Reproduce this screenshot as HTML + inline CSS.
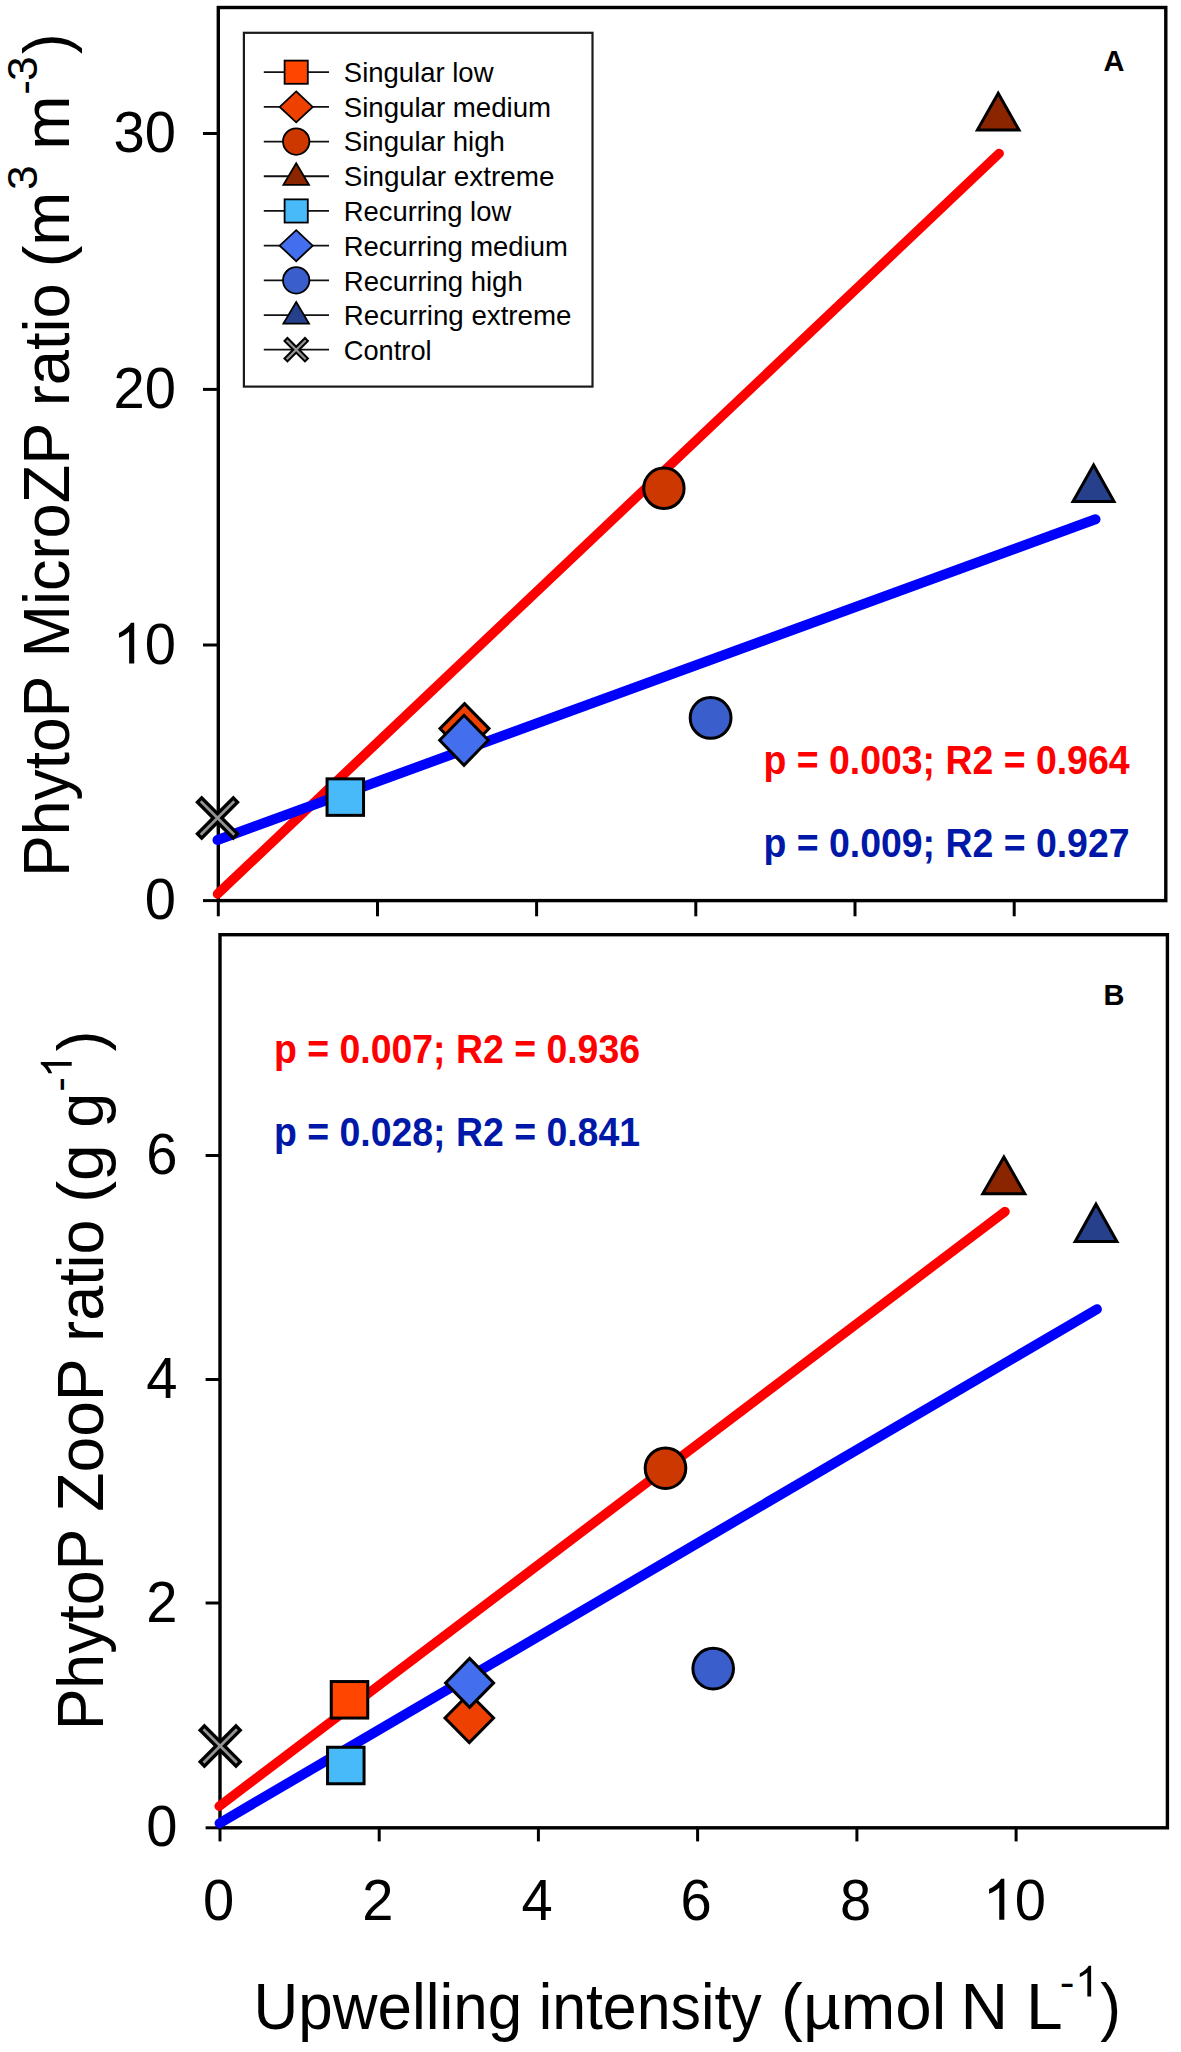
<!DOCTYPE html>
<html lang="en"><head><meta charset="utf-8"><title>Figure</title>
<style>html,body{margin:0;padding:0;background:#fff;overflow:hidden;}svg{display:block;}text{font-family:"Liberation Sans", sans-serif;fill:#000;}</style>
</head><body>
<svg width="1181" height="2052" viewBox="0 0 1181 2052">
<rect x="0" y="0" width="1181" height="2052" fill="#ffffff"/>
<line x1="203.0" y1="133.5" x2="218.3" y2="133.5" stroke="#000" stroke-width="3.0"/>
<line x1="203.0" y1="389.4" x2="218.3" y2="389.4" stroke="#000" stroke-width="3.0"/>
<line x1="203.0" y1="645.0" x2="218.3" y2="645.0" stroke="#000" stroke-width="3.0"/>
<line x1="203.0" y1="900.6" x2="218.3" y2="900.6" stroke="#000" stroke-width="3.0"/>
<line x1="218.3" y1="900.6" x2="218.3" y2="916.3" stroke="#000" stroke-width="3.0"/>
<line x1="377.5" y1="900.6" x2="377.5" y2="916.3" stroke="#000" stroke-width="3.0"/>
<line x1="536.6" y1="900.6" x2="536.6" y2="916.3" stroke="#000" stroke-width="3.0"/>
<line x1="695.8" y1="900.6" x2="695.8" y2="916.3" stroke="#000" stroke-width="3.0"/>
<line x1="855.0" y1="900.6" x2="855.0" y2="916.3" stroke="#000" stroke-width="3.0"/>
<line x1="1014.2" y1="900.6" x2="1014.2" y2="916.3" stroke="#000" stroke-width="3.0"/>
<rect x="218.3" y="7.5" width="947.5" height="893.1" fill="none" stroke="#000" stroke-width="3.4"/>
<line x1="217.5" y1="894" x2="999.2" y2="153.4" stroke="#FF0000" stroke-width="9.5" stroke-linecap="round"/>
<line x1="217.5" y1="840" x2="1095.5" y2="519.3" stroke="#0000FF" stroke-width="10.0" stroke-linecap="round"/>
<line x1="198.41" y1="798.91" x2="236.59" y2="837.09" stroke="#000" stroke-width="9.3" stroke-linecap="butt"/>
<line x1="198.41" y1="837.09" x2="236.59" y2="798.91" stroke="#000" stroke-width="9.3" stroke-linecap="butt"/>
<line x1="200.74" y1="801.24" x2="234.26" y2="834.76" stroke="#949494" stroke-width="2.7" stroke-linecap="butt"/>
<line x1="200.74" y1="834.76" x2="234.26" y2="801.24" stroke="#949494" stroke-width="2.7" stroke-linecap="butt"/>
<rect x="327.05" y="778.85" width="36.50" height="36.50" fill="#49BAF9" stroke="#000" stroke-width="3.0" stroke-linejoin="miter"/>
<polygon points="464.50,703.60 489.00,728.60 464.50,753.60 440.00,728.60" fill="#EE4000" stroke="#000" stroke-width="3.0" stroke-linejoin="miter"/>
<polygon points="464.00,715.30 488.30,740.30 464.00,765.30 439.70,740.30" fill="#436EEE" stroke="#000" stroke-width="3.0" stroke-linejoin="miter"/>
<circle cx="663.90" cy="488.30" r="20.20" fill="#CD3700" stroke="#000" stroke-width="3.0"/>
<circle cx="710.60" cy="717.90" r="20.40" fill="#3A5FCD" stroke="#000" stroke-width="3.0"/>
<polygon points="998.20,93.30 1019.00,130.00 977.40,130.00" fill="#8B2500" stroke="#000" stroke-width="3.0" stroke-linejoin="miter"/>
<polygon points="1093.60,465.00 1114.00,501.40 1073.00,501.40" fill="#27408B" stroke="#000" stroke-width="3.0" stroke-linejoin="miter"/>
<line x1="205.6" y1="1155.5" x2="220.0" y2="1155.5" stroke="#000" stroke-width="3.0"/>
<line x1="205.6" y1="1379.5" x2="220.0" y2="1379.5" stroke="#000" stroke-width="3.0"/>
<line x1="205.6" y1="1603.0" x2="220.0" y2="1603.0" stroke="#000" stroke-width="3.0"/>
<line x1="205.6" y1="1827.8" x2="220.0" y2="1827.8" stroke="#000" stroke-width="3.0"/>
<line x1="220.0" y1="1827.8" x2="220.0" y2="1841.4" stroke="#000" stroke-width="3.0"/>
<line x1="379.2" y1="1827.8" x2="379.2" y2="1841.4" stroke="#000" stroke-width="3.0"/>
<line x1="538.4" y1="1827.8" x2="538.4" y2="1841.4" stroke="#000" stroke-width="3.0"/>
<line x1="697.6" y1="1827.8" x2="697.6" y2="1841.4" stroke="#000" stroke-width="3.0"/>
<line x1="856.9" y1="1827.8" x2="856.9" y2="1841.4" stroke="#000" stroke-width="3.0"/>
<line x1="1016.1" y1="1827.8" x2="1016.1" y2="1841.4" stroke="#000" stroke-width="3.0"/>
<rect x="220.0" y="934.7" width="947.4000000000001" height="893.0999999999999" fill="none" stroke="#000" stroke-width="3.4"/>
<line x1="219.2" y1="1806.2" x2="1005" y2="1211.6" stroke="#FF0000" stroke-width="9.5" stroke-linecap="round"/>
<line x1="219.6" y1="1823.2" x2="1096.9" y2="1309.2" stroke="#0000FF" stroke-width="10.0" stroke-linecap="round"/>
<line x1="201.11" y1="1726.91" x2="239.29" y2="1765.09" stroke="#000" stroke-width="9.3" stroke-linecap="butt"/>
<line x1="201.11" y1="1765.09" x2="239.29" y2="1726.91" stroke="#000" stroke-width="9.3" stroke-linecap="butt"/>
<line x1="203.44" y1="1729.24" x2="236.96" y2="1762.76" stroke="#949494" stroke-width="2.7" stroke-linecap="butt"/>
<line x1="203.44" y1="1762.76" x2="236.96" y2="1729.24" stroke="#949494" stroke-width="2.7" stroke-linecap="butt"/>
<rect x="331.25" y="1681.55" width="36.50" height="36.50" fill="#FF4500" stroke="#000" stroke-width="3.0" stroke-linejoin="miter"/>
<rect x="327.55" y="1747.25" width="36.50" height="36.50" fill="#49BAF9" stroke="#000" stroke-width="3.0" stroke-linejoin="miter"/>
<polygon points="469.30,1693.50 493.60,1718.00 469.30,1742.50 445.00,1718.00" fill="#EE4000" stroke="#000" stroke-width="3.0" stroke-linejoin="miter"/>
<polygon points="469.60,1658.40 493.60,1682.90 469.60,1707.40 445.60,1682.90" fill="#436EEE" stroke="#000" stroke-width="3.0" stroke-linejoin="miter"/>
<circle cx="665.50" cy="1468.20" r="20.30" fill="#CD3700" stroke="#000" stroke-width="3.0"/>
<circle cx="713.20" cy="1668.60" r="20.30" fill="#3A5FCD" stroke="#000" stroke-width="3.0"/>
<polygon points="1003.90,1157.00 1024.80,1193.70 982.80,1193.70" fill="#8B2500" stroke="#000" stroke-width="3.0" stroke-linejoin="miter"/>
<polygon points="1096.00,1204.20 1116.90,1241.60 1075.20,1241.60" fill="#27408B" stroke="#000" stroke-width="3.0" stroke-linejoin="miter"/>
<rect x="243.9" y="32.8" width="348.6" height="353.8" fill="#fff" stroke="#1a1a1a" stroke-width="2.2"/>
<line x1="263.8" y1="72.2" x2="329" y2="72.2" stroke="#111" stroke-width="1.8"/>
<rect x="284.60" y="60.60" width="23.20" height="23.20" fill="#FF4500" stroke="#000" stroke-width="1.8" stroke-linejoin="miter"/>
<text transform="translate(343.8,81.86) scale(0.996,1)" font-size="27.6">Singular low</text>
<line x1="263.8" y1="106.89" x2="329" y2="106.89" stroke="#111" stroke-width="1.8"/>
<polygon points="296.20,91.39 312.70,106.89 296.20,122.39 279.70,106.89" fill="#EE4000" stroke="#000" stroke-width="1.8" stroke-linejoin="miter"/>
<text transform="translate(343.8,116.63) scale(1.0015,1)" font-size="27.6">Singular medium</text>
<line x1="263.8" y1="141.57999999999998" x2="329" y2="141.57999999999998" stroke="#111" stroke-width="1.8"/>
<circle cx="296.20" cy="141.58" r="13.20" fill="#CD3700" stroke="#000" stroke-width="1.8"/>
<text transform="translate(343.8,151.41) scale(1.0006,1)" font-size="27.6">Singular high</text>
<line x1="263.8" y1="176.26999999999998" x2="329" y2="176.26999999999998" stroke="#111" stroke-width="1.8"/>
<polygon points="296.20,163.27 309.00,184.87 283.40,184.87" fill="#8B2500" stroke="#000" stroke-width="1.8" stroke-linejoin="miter"/>
<text transform="translate(343.8,186.19) scale(1.0102,1)" font-size="27.6">Singular extreme</text>
<line x1="263.8" y1="210.95999999999998" x2="329" y2="210.95999999999998" stroke="#111" stroke-width="1.8"/>
<rect x="284.60" y="199.36" width="23.20" height="23.20" fill="#49BAF9" stroke="#000" stroke-width="1.8" stroke-linejoin="miter"/>
<text transform="translate(343.8,220.96) scale(0.9922,1)" font-size="27.6">Recurring low</text>
<line x1="263.8" y1="245.64999999999998" x2="329" y2="245.64999999999998" stroke="#111" stroke-width="1.8"/>
<polygon points="296.20,230.15 312.70,245.65 296.20,261.15 279.70,245.65" fill="#436EEE" stroke="#000" stroke-width="1.8" stroke-linejoin="miter"/>
<text transform="translate(343.8,255.74) scale(0.9937,1)" font-size="27.6">Recurring medium</text>
<line x1="263.8" y1="280.34" x2="329" y2="280.34" stroke="#111" stroke-width="1.8"/>
<circle cx="296.20" cy="280.34" r="13.20" fill="#3A5FCD" stroke="#000" stroke-width="1.8"/>
<text transform="translate(343.8,290.51) scale(0.9972,1)" font-size="27.6">Recurring high</text>
<line x1="263.8" y1="315.03" x2="329" y2="315.03" stroke="#111" stroke-width="1.8"/>
<polygon points="296.20,302.03 309.00,323.63 283.40,323.63" fill="#27408B" stroke="#000" stroke-width="1.8" stroke-linejoin="miter"/>
<text transform="translate(343.8,325.28) scale(1.0031,1)" font-size="27.6">Recurring extreme</text>
<line x1="263.8" y1="349.71999999999997" x2="329" y2="349.71999999999997" stroke="#111" stroke-width="1.8"/>
<line x1="285.24" y1="338.76" x2="307.16" y2="360.68" stroke="#000" stroke-width="6.2" stroke-linecap="butt"/>
<line x1="285.24" y1="360.68" x2="307.16" y2="338.76" stroke="#000" stroke-width="6.2" stroke-linecap="butt"/>
<line x1="286.65" y1="340.17" x2="305.75" y2="359.27" stroke="#949494" stroke-width="2.2" stroke-linecap="butt"/>
<line x1="286.65" y1="359.27" x2="305.75" y2="340.17" stroke="#949494" stroke-width="2.2" stroke-linecap="butt"/>
<text transform="translate(343.8,360.06) scale(0.9872,1)" font-size="27.6">Control</text>
<text transform="translate(176.0,152.10) scale(0.985,1)" font-size="57.0" text-anchor="end">30</text>
<text transform="translate(176.0,408.00) scale(0.985,1)" font-size="57.0" text-anchor="end">20</text>
<text transform="translate(176.0,663.60) scale(0.985,1)" font-size="57.0" text-anchor="end">0</text>
<path transform="translate(112.67,663.60) rotate(0) scale(0.02824,-0.02783)" d="M763,0H583V1147Q518,1085 412.5,1023Q307,961 223,930V1104Q374,1175 487,1276Q600,1377 647,1472H763Z" fill="#000"/>
<text transform="translate(176.0,919.20) scale(0.985,1)" font-size="57.0" text-anchor="end">0</text>
<text transform="translate(177.4,1174.10) scale(0.985,1)" font-size="57.0" text-anchor="end">6</text>
<text transform="translate(177.4,1398.10) scale(0.985,1)" font-size="57.0" text-anchor="end">4</text>
<text transform="translate(177.4,1621.60) scale(0.985,1)" font-size="57.0" text-anchor="end">2</text>
<text transform="translate(177.4,1846.40) scale(0.985,1)" font-size="57.0" text-anchor="end">0</text>
<text transform="translate(218.60,1919.7) scale(0.985,1)" font-size="57.0" text-anchor="middle">0</text>
<text transform="translate(377.80,1919.7) scale(0.985,1)" font-size="57.0" text-anchor="middle">2</text>
<text transform="translate(537.00,1919.7) scale(0.985,1)" font-size="57.0" text-anchor="middle">4</text>
<text transform="translate(696.20,1919.7) scale(0.985,1)" font-size="57.0" text-anchor="middle">6</text>
<text transform="translate(855.50,1919.7) scale(0.985,1)" font-size="57.0" text-anchor="middle">8</text>
<text transform="translate(1014.70,1919.7) scale(0.985,1)" font-size="57.0">0</text>
<path transform="translate(982.78,1919.70) rotate(0) scale(0.02824,-0.02783)" d="M763,0H583V1147Q518,1085 412.5,1023Q307,961 223,930V1104Q374,1175 487,1276Q600,1377 647,1472H763Z" fill="#000"/>
<text transform="translate(68.50,876.72) rotate(-90) scale(0.9745,1)" font-size="64">PhytoP</text>
<text transform="translate(68.50,657.47) rotate(-90) scale(0.9855,1)" font-size="64">MicroZP</text>
<text transform="translate(68.50,406.20) rotate(-90) scale(0.9872,1)" font-size="64">ratio</text>
<text transform="translate(68.50,267.34) rotate(-90) scale(1.0109,1)" font-size="64">(m</text>
<text transform="translate(37.20,189.97) rotate(-90) scale(1.0300,1)" font-size="43">3</text>
<text transform="translate(68.50,149.83) rotate(-90) scale(1.0184,1)" font-size="64">m</text>
<text transform="translate(39.40,94.83) rotate(-90) scale(1.0286,1)" font-size="43">-</text>
<text transform="translate(37.20,80.97) rotate(-90) scale(1.0300,1)" font-size="43">3</text>
<text transform="translate(68.50,53.96) rotate(-90) scale(0.9706,1)" font-size="64">)</text>
<text transform="translate(103.30,1730.33) rotate(-90) scale(0.9770,1)" font-size="64">PhytoP</text>
<text transform="translate(103.30,1511.81) rotate(-90) scale(1.0039,1)" font-size="64">ZooP</text>
<text transform="translate(103.30,1341.67) rotate(-90) scale(0.9813,1)" font-size="64">ratio</text>
<text transform="translate(103.30,1202.81) rotate(-90) scale(1.0277,1)" font-size="64">(g</text>
<text transform="translate(103.30,1127.79) rotate(-90) scale(0.9870,1)" font-size="64">g</text>
<text transform="translate(73.50,1091.79) rotate(-90) scale(1.0300,1)" font-size="43">-</text>
<text transform="translate(103.30,1051.22) rotate(-90) scale(0.9600,1)" font-size="64">)</text>
<text transform="translate(253.58,2028.50) scale(0.9683,1)" font-size="64">Upwelling</text>
<text transform="translate(538.66,2028.50) scale(0.9502,1)" font-size="64">intensity</text>
<text transform="translate(781.11,2028.50) scale(1.0235,1)" font-size="64">(µmol</text>
<text transform="translate(960.58,2028.50) scale(1.0300,1)" font-size="64">N</text>
<text transform="translate(1025.89,2028.50) scale(1.0300,1)" font-size="64">L</text>
<text transform="translate(1059.81,1997.20) scale(1.0300,1)" font-size="43">-</text>
<text transform="translate(1100.23,2028.50) scale(0.9765,1)" font-size="64">)</text>
<path transform="translate(71.70,1077.90) rotate(-90) scale(0.02100,-0.02100)" d="M763,0H583V1147Q518,1085 412.5,1023Q307,961 223,930V1104Q374,1175 487,1276Q600,1377 647,1472H763Z" fill="#000"/>
<path transform="translate(1075.10,1996.60) rotate(0) scale(0.02100,-0.02100)" d="M763,0H583V1147Q518,1085 412.5,1023Q307,961 223,930V1104Q374,1175 487,1276Q600,1377 647,1472H763Z" fill="#000"/>
<text x="1103.5" y="71" font-size="29" font-weight="bold">A</text>
<text x="1103.5" y="1004.5" font-size="29" font-weight="bold">B</text>
<text x="763.5" y="774.3" font-size="40.3" font-weight="bold" style="fill:#FF0000" textLength="366" lengthAdjust="spacingAndGlyphs">p = 0.003; R2 = 0.964</text>
<text x="763.5" y="857.3" font-size="40.3" font-weight="bold" style="fill:#0018A8" textLength="366" lengthAdjust="spacingAndGlyphs">p = 0.009; R2 = 0.927</text>
<text x="274" y="1063.2" font-size="40.3" font-weight="bold" style="fill:#FF0000" textLength="366" lengthAdjust="spacingAndGlyphs">p = 0.007; R2 = 0.936</text>
<text x="274" y="1146.2" font-size="40.3" font-weight="bold" style="fill:#0018A8" textLength="366" lengthAdjust="spacingAndGlyphs">p = 0.028; R2 = 0.841</text>
</svg></body></html>
